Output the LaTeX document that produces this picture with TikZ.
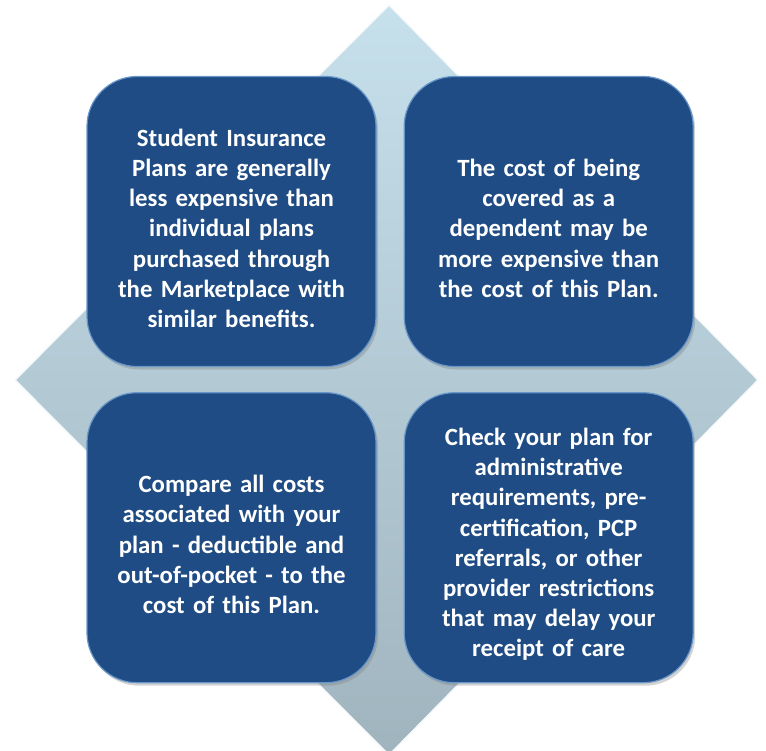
\documentclass[tikz,border=0pt]{standalone}
\usepackage{fontspec}
\setmainfont{Carlito}
\usetikzlibrary{positioning,shadows}
\definecolor{planblue}{RGB}{31,76,132}
\definecolor{planrim}{RGB}{105,150,200}
\definecolor{diamtop}{RGB}{198,224,236}
\definecolor{diambot}{RGB}{160,180,190}
\tikzset{
	planbox/.style={
		rectangle,
		rounded corners=50pt,
		fill=planblue,
		draw=planrim, line width=1.2pt,
		drop shadow={opacity=0.35, shadow xshift=2pt, shadow yshift=-3pt},
		minimum width=289pt,
		minimum height=290pt,
		text width=270pt,
		align=center,
		text=white,
		font=\bfseries\fontsize{24.8}{30.2}\selectfont,
		execute at begin node={\rule{0pt}{31pt}}},
	backdrop/.style={
		top color=diamtop,
		bottom color=diambot,
		draw=white!85!diamtop, line width=1.5pt},
}

\begin{document}
\begin{tikzpicture}
[x=1pt, y=-1pt, node distance=27pt and 27pt]
\useasboundingbox (0,0) rectangle (766,750);
\begin{scope}
\clip (0,0) rectangle (766,750);
\draw[backdrop] (389,5) -- (758,380) -- (389,755) -- (15,380) -- cycle;
\end{scope}
\node[planbox] (student) at (231.5,221.5) {Student Insurance\\ Plans are generally\\ less expensive than\\ individual plans\\ purchased through\\ the Marketplace with\\ similar benefits.};
\node[planbox, right=of student] (dependent) {The cost of being\\ covered as a\\ dependent may be\\ more expensive than\\ the cost of this Plan.};
\node[planbox, below=25pt of student] (compare) {Compare all costs\\ associated with your\\ plan - deductible and\\ out-of-pocket - to the\\ cost of this Plan.};
\node[planbox, below=25pt of dependent] (check) {Check your plan for\\ administrative\\ requirements, pre-\\ certification, PCP\\ referrals, or other\\ provider restrictions\\ that may delay your\\ receipt of care};
\end{tikzpicture}
\end{document}
